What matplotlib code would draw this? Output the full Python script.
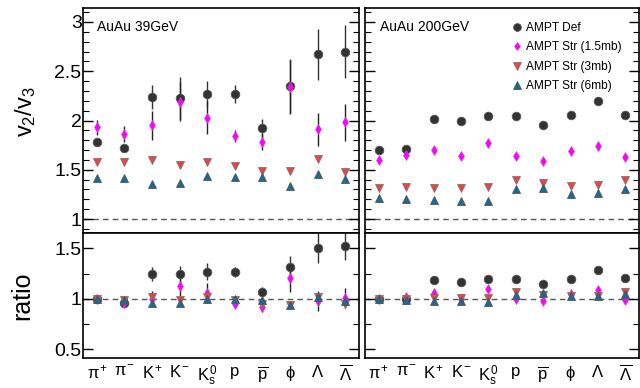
import matplotlib
matplotlib.use("Agg")
import matplotlib.pyplot as plt
import numpy as np
from matplotlib.ticker import MultipleLocator, FormatStrFormatter

plt.rcParams['font.family'] = ['Liberation Sans', 'DejaVu Sans']
plt.rcParams['mathtext.fontset'] = 'custom'
plt.rcParams['mathtext.rm'] = 'Liberation Sans'
plt.rcParams['mathtext.it'] = 'Liberation Sans'
plt.rcParams['mathtext.bf'] = 'Liberation Sans:bold'

# particle species
species = [r'$\pi^{+}$', r'$\pi^{-}$', r'$K^{+}$', r'$K^{-}$', r'$K^{0}_{s}$',
           'p', r'$\overline{p}$', r'$\phi$', r'$\Lambda$', r'$\overline{\Lambda}$']
labels = ['AMPT Def', 'AMPT Str (1.5mb)', 'AMPT Str (3mb)', 'AMPT Str (6mb)']

# v2/v3, AuAu 39 GeV
v39_def = [1.78, 1.72, 2.24, 2.23, 2.27, 2.27, 1.92, 2.35, 2.67, 2.70]
v39_def_err = [0.02, 0.02, 0.12, 0.21, 0.13, 0.09, 0.10, 0.27, 0.26, 0.27]
v39_s15 = [1.93, 1.86, 1.95, 2.19, 2.03, 1.84, 1.78, 2.34, 1.91, 1.98]
v39_s15_err = [0.08, 0.08, 0.15, 0.20, 0.17, 0.06, 0.08, 0.27, 0.17, 0.19]
v39_s3 = [1.58, 1.58, 1.60, 1.55, 1.58, 1.54, 1.49, 1.49, 1.61, 1.48]
v39_s3_err = [0.02, 0.02, 0.02, 0.03, 0.02, 0.02, 0.02, 0.02, 0.02, 0.02]
v39_s6 = [1.42, 1.42, 1.36, 1.37, 1.44, 1.43, 1.43, 1.34, 1.46, 1.41]
v39_s6_err = [0.02, 0.02, 0.02, 0.02, 0.02, 0.02, 0.02, 0.02, 0.02, 0.02]

# v2/v3, AuAu 200 GeV
v200_def = [1.70, 1.71, 2.02, 2.00, 2.05, 2.05, 1.95, 2.06, 2.20, 2.06]
v200_def_err = [0.02, 0.02, 0.01, 0.01, 0.01, 0.01, 0.01, 0.01, 0.04, 0.01]
v200_s15 = [1.60, 1.65, 1.70, 1.64, 1.77, 1.64, 1.59, 1.69, 1.74, 1.63]
v200_s15_err = [0.03, 0.03, 0.03, 0.03, 0.04, 0.02, 0.02, 0.04, 0.04, 0.02]
v200_s3 = [1.31, 1.32, 1.31, 1.31, 1.32, 1.40, 1.37, 1.34, 1.35, 1.40]
v200_s3_err = [0.02, 0.02, 0.02, 0.02, 0.02, 0.02, 0.03, 0.03, 0.03, 0.02]
v200_s6 = [1.21, 1.20, 1.19, 1.18, 1.18, 1.30, 1.31, 1.25, 1.26, 1.30]
v200_s6_err = [0.02, 0.02, 0.02, 0.02, 0.02, 0.02, 0.03, 0.03, 0.03, 0.02]

# ratio (normalised to pions), 39 GeV
r39_def = [1.00, 0.96, 1.25, 1.25, 1.27, 1.27, 1.07, 1.32, 1.50, 1.52]
r39_def_err = [0.02, 0.02, 0.07, 0.08, 0.08, 0.05, 0.05, 0.10, 0.15, 0.14]
r39_s15 = [1.00, 0.96, 1.00, 1.13, 1.06, 0.95, 0.92, 1.21, 0.98, 1.01]
r39_s15_err = [0.03, 0.03, 0.08, 0.11, 0.10, 0.04, 0.05, 0.14, 0.10, 0.10]
r39_s3 = [1.00, 0.99, 1.02, 0.99, 1.02, 0.99, 0.95, 0.94, 1.02, 0.95]
r39_s3_err = [0.02, 0.02, 0.02, 0.02, 0.02, 0.02, 0.02, 0.02, 0.02, 0.02]
r39_s6 = [1.00, 0.99, 0.96, 0.96, 1.00, 1.00, 0.99, 0.94, 1.02, 0.98]
r39_s6_err = [0.02, 0.02, 0.02, 0.02, 0.02, 0.02, 0.02, 0.02, 0.02, 0.02]

# ratio, 200 GeV
r200_def = [1.00, 1.00, 1.19, 1.17, 1.20, 1.20, 1.15, 1.20, 1.29, 1.21]
r200_def_err = [0.01, 0.01, 0.01, 0.01, 0.01, 0.01, 0.01, 0.01, 0.02, 0.01]
r200_s15 = [1.00, 1.02, 1.06, 1.00, 1.10, 1.00, 0.98, 1.05, 1.09, 0.99]
r200_s15_err = [0.02, 0.02, 0.03, 0.02, 0.03, 0.02, 0.02, 0.03, 0.03, 0.02]
r200_s3 = [1.00, 1.00, 1.01, 1.01, 1.01, 1.07, 1.04, 1.03, 1.03, 1.07]
r200_s3_err = [0.02, 0.02, 0.02, 0.02, 0.02, 0.02, 0.03, 0.02, 0.02, 0.02]
r200_s6 = [1.00, 0.99, 0.98, 0.98, 0.97, 1.04, 1.06, 1.03, 1.03, 1.05]
r200_s6_err = [0.02, 0.02, 0.02, 0.02, 0.02, 0.02, 0.03, 0.02, 0.02, 0.02]

W, H = 640, 388
fig = plt.figure(figsize=(W / 100, H / 100), dpi=100)


def ax_at(x0, y0, x1, y1):
    return fig.add_axes([x0 / W, 1 - y1 / H, (x1 - x0) / W, (y1 - y0) / H])


styles = [
    dict(marker='o', ms=6.2, mfc='#333333', mec='#555555', mew=0.6, ecolor='#333333'),
    dict(marker='d', ms=5.0, mfc='#ff00ff', mec='#cc44cc', mew=0.4, ecolor='#222222'),
    dict(marker='v', ms=6.0, mfc='#f04040', mec='#777777', mew=0.6, ecolor='#333333'),
    dict(marker='^', ms=6.0, mfc='#1a6a98', mec='#555555', mew=0.6, ecolor='#333333'),
]

x = np.arange(len(species))


def draw(ax, series, ylim, major, minor, show_labels):
    for (vals, errs), st, lab in zip(series, styles, labels):
        ax.errorbar(x, vals, yerr=errs, fmt='none', ecolor=st['ecolor'], elinewidth=1.0, capsize=0, zorder=2)
        ax.plot(x, vals, linestyle='none', marker=st['marker'], markersize=st['ms'],
                markerfacecolor=st['mfc'], markeredgecolor=st['mec'], markeredgewidth=st['mew'],
                label=lab, zorder=3)
    ax.axhline(1.0, color='#555555', linestyle=(0, (4, 3)), linewidth=1.0, zorder=1)
    ax.set_xlim(-0.5, 9.5)
    ax.set_ylim(*ylim)
    ax.yaxis.set_major_locator(MultipleLocator(major))
    ax.yaxis.set_minor_locator(MultipleLocator(minor))
    ax.yaxis.set_major_formatter(FormatStrFormatter('%g'))
    ax.tick_params(axis='y', which='both', direction='in', left=True, right=True,
                   labelleft=show_labels, labelsize=14, pad=1)
    ax.tick_params(axis='y', which='major', length=7, width=1.0)
    ax.tick_params(axis='y', which='minor', length=4, width=0.8)
    for s in ax.spines.values():
        s.set_linewidth(1.2)


ax_tl = ax_at(83, 8, 359, 233)
ax_bl = ax_at(83, 233, 359, 358)
ax_tr = ax_at(365, 8, 639, 233)
ax_br = ax_at(365, 233, 639, 358)

top_ylim = (0.858, 3.142)
rat_ylim = (0.414, 1.652)

draw(ax_tl, [(v39_def, v39_def_err), (v39_s15, v39_s15_err), (v39_s3, v39_s3_err), (v39_s6, v39_s6_err)],
     top_ylim, 0.5, 0.1, True)
draw(ax_tr, [(v200_def, v200_def_err), (v200_s15, v200_s15_err), (v200_s3, v200_s3_err), (v200_s6, v200_s6_err)],
     top_ylim, 0.5, 0.1, False)
draw(ax_bl, [(r39_def, r39_def_err), (r39_s15, r39_s15_err), (r39_s3, r39_s3_err), (r39_s6, r39_s6_err)],
     rat_ylim, 0.5, 0.25, True)
draw(ax_br, [(r200_def, r200_def_err), (r200_s15, r200_s15_err), (r200_s3, r200_s3_err), (r200_s6, r200_s6_err)],
     rat_ylim, 0.5, 0.25, False)

for ax in (ax_tl, ax_tr):
    ax.set_xticks([])
for ax in (ax_bl, ax_br):
    ax.set_xticks(x)
    ax.set_xticklabels(species, fontsize=12)
    ax.tick_params(axis='x', length=0, pad=4)

ax_tl.text(0.05, 0.915, 'AuAu 39GeV', transform=ax_tl.transAxes, fontsize=10, va='center', ha='left')
ax_tr.text(0.055, 0.915, 'AuAu 200GeV', transform=ax_tr.transAxes, fontsize=10, va='center', ha='left')

ax_tr.legend(loc='upper left', bbox_to_anchor=(0.515, 0.97), frameon=False, fontsize=8.6,
             handlelength=0.6, handletextpad=0.45, labelspacing=0.62, borderaxespad=0.2,
             numpoints=1, markerscale=0.9)

fig.text(26 / W, 1 - 112 / H, r'$v_{2}/v_{3}$', rotation=90, fontsize=17, ha='center', va='center')
fig.text(22 / W, 1 - 296 / H, 'ratio', rotation=90, fontsize=18, ha='center', va='center')

fig.savefig('out.png', dpi=100)
